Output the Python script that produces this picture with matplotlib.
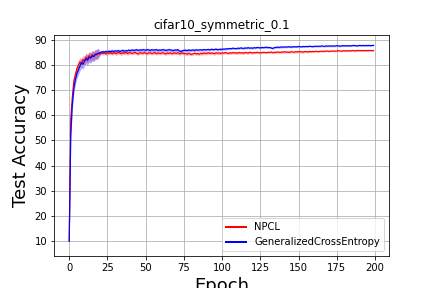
import numpy as np
import matplotlib
matplotlib.use("Agg")
import matplotlib.pyplot as plt

title = "cifar10_symmetric_0.1"
labels = ["NPCL", "GeneralizedCrossEntropy"]
colors = ["red", "blue"]

# mean test accuracy per epoch
npcl = [
    10.0, 58.5, 67.0, 73.5, 76.0, 78.5, 79.8, 81.2, 80.4, 82.1, 81.5, 83.0, 82.4, 83.6, 82.9, 84.0, 83.4, 84.3, 83.9, 84.6,
    84.2, 84.8, 84.5, 84.9, 84.3, 84.7, 84.6, 84.9, 84.4, 84.8, 84.6, 84.5, 84.9, 84.7, 84.4, 84.8, 84.6, 84.9, 84.5, 84.7,
    84.8, 84.5, 84.7, 84.9, 84.6, 84.3, 84.8, 84.7, 84.5, 84.9, 84.6, 84.4, 84.8, 84.7, 84.5, 84.6, 84.9, 84.4, 84.7, 84.6,
    84.5, 84.8, 84.6, 84.3, 84.7, 84.5, 84.8, 84.4, 84.6, 84.7, 84.5, 84.8, 84.3, 84.6, 84.7, 84.4, 84.5, 84.2, 84.6, 84.3,
    84.1, 84.4, 84.6, 84.3, 84.5, 84.2, 84.6, 84.4, 84.7, 84.5, 84.6, 84.8, 84.5, 84.7, 84.6, 84.4, 84.8, 84.6, 84.7, 84.5,
    84.8, 84.6, 84.9, 84.7, 84.5, 84.8, 84.6, 84.9, 84.7, 84.8, 84.6, 84.9, 84.7, 84.8, 84.6, 84.9, 84.8, 84.7, 85.0, 84.8,
    84.7, 84.9, 84.8, 85.0, 84.7, 84.9, 84.8, 85.0, 84.9, 84.8, 85.0, 84.9, 85.1, 84.8, 85.0, 84.9, 85.1, 85.0, 84.9, 85.1,
    85.0, 85.2, 85.0, 85.1, 84.9, 85.2, 85.1, 85.0, 85.2, 85.1, 85.3, 85.1, 85.2, 85.0, 85.3, 85.2, 85.1, 85.3, 85.2, 85.3,
    85.2, 85.4, 85.3, 85.2, 85.4, 85.3, 85.4, 85.3, 85.5, 85.4, 85.3, 85.5, 85.4, 85.5, 85.4, 85.5, 85.6, 85.5, 85.4, 85.6,
    85.5, 85.6, 85.5, 85.6, 85.5, 85.7, 85.6, 85.5, 85.7, 85.6, 85.7, 85.6, 85.7, 85.6, 85.7, 85.6, 85.7, 85.7, 85.6, 85.7,
]
gce = [
    10.0, 52.0, 64.0, 70.5, 74.0, 76.5, 78.0, 79.5, 80.8, 80.2, 81.5, 82.3, 81.8, 83.0, 82.6, 83.5, 83.2, 84.0, 84.3, 84.5,
    84.8, 85.0, 85.2, 85.0, 85.3, 85.1, 85.4, 85.2, 85.5, 85.3, 85.5, 85.4, 85.6, 85.3, 85.5, 85.7, 85.4, 85.6, 85.5, 85.8,
    85.6, 85.9, 85.7, 85.8, 86.0, 85.7, 85.9, 85.8, 86.0, 85.9, 85.8, 86.0, 85.9, 85.7, 86.0, 85.8, 85.9, 86.0, 85.7, 85.9,
    85.8, 86.0, 85.9, 85.7, 85.8, 86.0, 85.9, 85.8, 85.6, 85.9, 85.8, 86.0, 85.5, 85.3, 85.6, 85.7, 85.8, 85.6, 85.9, 85.7,
    85.8, 85.9, 85.7, 86.0, 85.8, 85.9, 86.0, 85.8, 86.1, 85.9, 86.0, 86.1, 85.9, 86.2, 86.0, 86.1, 86.2, 86.0, 86.1, 86.2,
    86.1, 86.3, 86.2, 86.4, 86.3, 86.5, 86.4, 86.6, 86.5, 86.4, 86.6, 86.5, 86.7, 86.6, 86.5, 86.7, 86.6, 86.8, 86.6, 86.7,
    86.6, 86.8, 86.7, 86.9, 86.8, 86.7, 86.9, 86.8, 86.9, 87.0, 86.8, 86.9, 86.7, 86.5, 86.8, 86.9, 87.0, 86.9, 87.0, 87.1,
    87.0, 87.1, 87.0, 87.2, 87.1, 87.0, 87.2, 87.1, 87.2, 87.1, 87.3, 87.2, 87.1, 87.3, 87.2, 87.3, 87.2, 87.4, 87.3, 87.2,
    87.3, 87.4, 87.3, 87.4, 87.3, 87.5, 87.4, 87.3, 87.5, 87.4, 87.5, 87.4, 87.5, 87.4, 87.5, 87.6, 87.5, 87.4, 87.5, 87.6,
    87.5, 87.6, 87.5, 87.6, 87.5, 87.6, 87.7, 87.6, 87.5, 87.6, 87.7, 87.6, 87.7, 87.6, 87.7, 87.6, 87.7, 87.6, 87.7, 87.7,
]
# spread (+/-) of the shaded band, one value per 20-epoch block
npcl_spread = [1.8, 0.7, 0.6, 0.6, 0.6, 0.5, 0.4, 0.4, 0.3, 0.3]
gce_spread = [2.0, 0.7, 0.6, 0.6, 0.5, 0.4, 0.4, 0.3, 0.3, 0.3]

fig, ax = plt.subplots(figsize=(6, 4), dpi=72)
for mean, spread, lab, col in [(npcl, npcl_spread, labels[0], colors[0]),
                                (gce, gce_spread, labels[1], colors[1])]:
    mean = np.array(mean)
    epochs = np.arange(len(mean))
    s = np.repeat(spread, 20)[:len(mean)]
    ax.fill_between(epochs, mean - s, mean + s, color=col, alpha=0.3, linewidth=0)
    ax.plot(epochs, mean, color=col, linewidth=1.2, label=lab)

ax.set_title(title)
ax.set_xlabel("Epoch", fontsize=18)
ax.set_ylabel("Test Accuracy", fontsize=18)
ax.set_xticks(np.arange(0, 201, 25))
ax.set_yticks(np.arange(10, 91, 10))
ax.grid(True)
leg = ax.legend(loc="lower right")
for line in leg.get_lines():
    line.set_linewidth(2)

fig.savefig("out.png", dpi=72)
